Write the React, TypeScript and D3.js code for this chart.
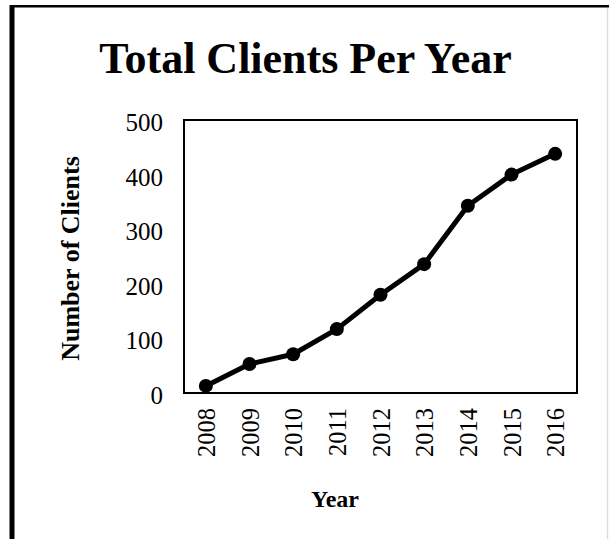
import React, { useEffect, useRef } from 'react';
import * as d3 from 'd3';

const years = ['2008', '2009', '2010', '2011', '2012', '2013', '2014', '2015', '2016'];
const clients = [13, 53, 71, 117, 180, 236, 343, 400, 438];
const yTicks = [0, 100, 200, 300, 400, 500];

const width = 609;
const height = 539;
const plot = { left: 184, right: 577, top: 120, bottom: 393 };
const FONT = '"Liberation Serif", "Times New Roman", serif';

const App: React.FC = () => {
  const svgRef = useRef<SVGSVGElement>(null);

  useEffect(() => {
    if (!svgRef.current) return;
    const svg = d3.select(svgRef.current);
    svg.selectAll('*').remove();

    svg.append('rect')
      .attr('width', width)
      .attr('height', height)
      .attr('fill', 'white');

    // outer chart border (cropped screenshot look)
    svg.append('line')
      .attr('x1', 12).attr('x2', 12)
      .attr('y1', 5).attr('y2', height)
      .attr('stroke', '#000').attr('stroke-width', 5);
    svg.append('line')
      .attr('x1', 10).attr('x2', width)
      .attr('y1', 6.2).attr('y2', 6.2)
      .attr('stroke', '#000').attr('stroke-width', 2.5);
    svg.append('line')
      .attr('x1', 607.5).attr('x2', 607.5)
      .attr('y1', 8).attr('y2', height)
      .attr('stroke', '#ddd').attr('stroke-width', 1.5);

    const x = d3.scalePoint<string>()
      .domain(years)
      .range([plot.left, plot.right])
      .padding(0.5);

    const y = d3.scaleLinear()
      .domain([0, 500])
      .range([plot.bottom, plot.top]);

    // title
    svg.append('text')
      .attr('x', 305.5)
      .attr('y', 73)
      .attr('text-anchor', 'middle')
      .attr('font-family', FONT)
      .attr('font-weight', 'bold')
      .attr('font-size', 44)
      .text('Total Clients Per Year');

    // y axis labels
    const yAxis = svg.append('g')
      .attr('transform', `translate(${plot.left},0)`)
      .call(d3.axisLeft(y).tickValues(yTicks).tickSize(0).tickPadding(21));
    yAxis.select('.domain').remove();
    yAxis.selectAll('text')
      .attr('font-family', FONT)
      .attr('font-size', 25)
      .attr('fill', '#000')
      .attr('dy', '0.42em');

    // x axis labels, rotated
    const xAxis = svg.append('g')
      .attr('transform', `translate(0,${plot.bottom})`)
      .call(d3.axisBottom(x).tickSize(0));
    xAxis.select('.domain').remove();
    xAxis.selectAll('text')
      .attr('font-family', FONT)
      .attr('font-size', 24.5)
      .attr('fill', '#000')
      .attr('text-anchor', 'end')
      .attr('transform', 'rotate(-90)')
      .attr('x', -15)
      .attr('y', 0)
      .attr('dy', '0.36em');

    // plot frame
    svg.append('rect')
      .attr('x', plot.left)
      .attr('y', plot.top)
      .attr('width', plot.right - plot.left)
      .attr('height', plot.bottom - plot.top)
      .attr('fill', 'none')
      .attr('stroke', '#000')
      .attr('stroke-width', 2);

    // axis titles
    svg.append('text')
      .attr('transform', 'translate(79,258.5) rotate(-90)')
      .attr('text-anchor', 'middle')
      .attr('font-family', FONT)
      .attr('font-weight', 'bold')
      .attr('font-size', 26)
      .text('Number of Clients');

    svg.append('text')
      .attr('x', 335)
      .attr('y', 507)
      .attr('text-anchor', 'middle')
      .attr('font-family', FONT)
      .attr('font-weight', 'bold')
      .attr('font-size', 24)
      .text('Year');

    const line = d3.line<number>()
      .x((_, i) => x(years[i]) as number)
      .y(d => y(d));

    svg.append('path')
      .datum(clients)
      .attr('fill', 'none')
      .attr('stroke', '#000')
      .attr('stroke-width', 5)
      .attr('stroke-linejoin', 'round')
      .attr('d', line);

    svg.append('g')
      .selectAll('circle')
      .data(clients)
      .join('circle')
      .attr('cx', (_, i) => x(years[i]) as number)
      .attr('cy', d => y(d))
      .attr('r', 7)
      .attr('fill', '#000');
  }, []);

  return (
    <svg
      ref={svgRef}
      width={width}
      height={height}
      style={{ position: 'absolute', left: 0, top: 0, display: 'block' }}
    />
  );
};

export default App;
